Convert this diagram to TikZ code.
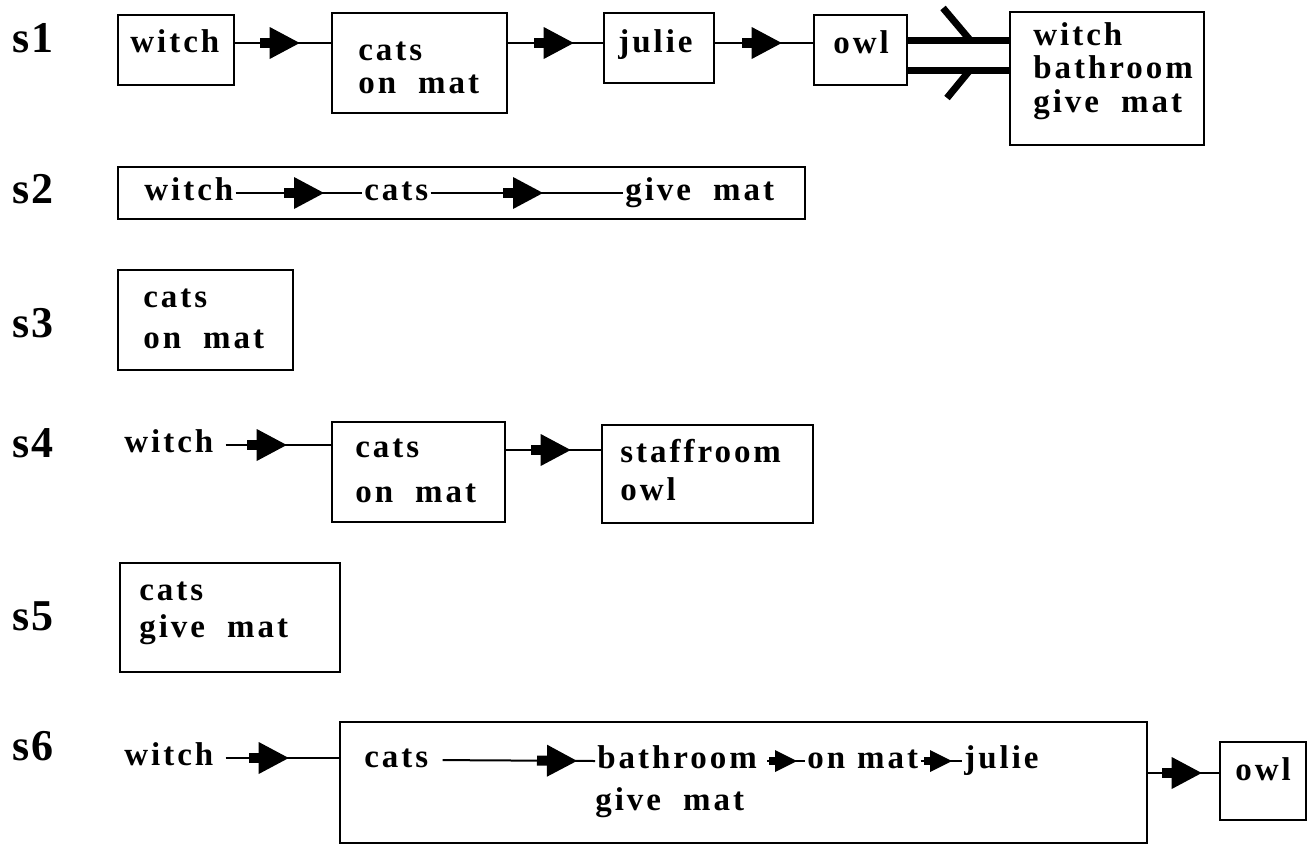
\documentclass[tikz,border=0pt]{standalone}
\usepackage{fontspec}
\setmainfont{Liberation Serif}
\newfontfamily\tfam{Liberation Serif}[LetterSpace=9]
\newfontfamily\lfam{Liberation Serif}[LetterSpace=4]
\usetikzlibrary{decorations.markings,fit}
\newcommand\ws{\hspace{11pt}}
\tikzset{
  box/.style={draw,line width=1.3pt,inner sep=0pt,rectangle},
  txt/.style={anchor=base west,inner sep=0pt,font={\tfam\bfseries\fontsize{16.5pt}{16.5pt}\selectfont}},
  word/.style={txt,inner xsep=1pt,text height=7pt,text depth=0pt},
  lab/.style={anchor=base west,inner sep=0pt,font={\lfam\bfseries\fontsize{22pt}{22pt}\selectfont}},
  conn/.style={line width=1pt},
  dbl/.style={line width=3.5pt},
  flow/.style={postaction={decorate,decoration={markings,mark=at position #1 with {
      \fill (-15pt,-8pt) -- (0pt,0pt) -- (-15pt,8pt) -- cycle;
      \fill (-20pt,-2.5pt) rectangle (-14pt,2.5pt);}}}},
  sflow/.style={postaction={decorate,decoration={markings,mark=at position #1 with {
      \fill (-11pt,-5.5pt) -- (0pt,0pt) -- (-11pt,5.5pt) -- cycle;
      \fill (-14pt,-2pt) rectangle (-10pt,2pt);}}}}
}
\begin{document}
\begin{tikzpicture}[x=0.5pt,y=-0.5pt]
\fill[white] (0,0) rectangle (1316,846);
\useasboundingbox (0,0) rectangle (1316,846);

% labels
\node[lab] (s1) at (12,52) {s1};
\node[lab] (s2) at (12,203) {s2};
\node[lab] (s3) at (12,337) {s3};
\node[lab] (s4) at (12,457) {s4};
\node[lab] (s5) at (12,630) {s5};
\node[lab] (s6) at (12,760) {s6};

% ---------- s1 ----------
\node[box,fit={(118,15) (234,85)}] (b1a) {};
\node[box,fit={(332,13) (507,113)}] (b1b) {};
\node[box,fit={(604,13) (714,83)}] (b1c) {};
\node[box,fit={(814,15) (907,85)}] (b1d) {};
\node[box,fit={(1010,12) (1204,145)}] (b1e) {};
\node[txt] (t1a) at (130,52) {witch};
\node[txt] (t1b) at (358,60) {cats};
\node[txt] (t1c) at (358,93) {on\ws mat};
\node[txt] (t1d) at (618,52) {julie};
\node[txt] (t1e) at (833,53) {owl};
\node[txt] (t1f) at (1033,45) {witch};
\node[txt] (t1g) at (1033,78) {bathroom};
\node[txt] (t1h) at (1033,112) {give\ws mat};
\coordinate (y1) at (0,43);
\draw[conn,flow=-15.5pt] (b1a.east |- y1) -- (b1b.west |- y1);
\draw[conn,flow=-14.5pt] (b1b.east |- y1) -- (b1c.west |- y1);
\draw[conn,flow=-15.5pt] (b1c.east |- y1) -- (b1d.west |- y1);
\coordinate (ya) at (0,40);
\coordinate (yb) at (0,70);
\draw[dbl] (b1d.east |- ya) -- (b1e.west |- ya);
\draw[dbl] (b1d.east |- yb) -- (b1e.west |- yb);
\coordinate (ba) at (943,8);
\coordinate (bb) at (947,98);
\draw[dbl] (ba) -- (970,40);
\draw[dbl] (bb) -- (970,70);

% ---------- s2 ----------
\node[box,fit={(118,167) (805,219)}] (b2) {};
\node[word] (w2) at (142,200) {witch};
\node[word] (c2) at (362,200) {cats};
\node[word] (g2) at (623,200) {give\ws mat};
\draw[conn,flow=-19pt] (w2.east) -- (c2.west);
\draw[conn,flow=-40pt] (c2.east) -- (g2.west);

% ---------- s3 ----------
\node[box,fit={(118,270) (293,370)}] (b3) {};
\node[txt] (t3a) at (143,307) {cats};
\node[txt] (t3b) at (143,348) {on\ws mat};

% ---------- s4 ----------
\node[word] (w4) at (122,452) {witch};
\node[box,fit={(332,422) (505,522)}] (b4a) {};
\node[box,fit={(602,425) (813,523)}] (b4b) {};
\node[txt] (t4a) at (355,457) {cats};
\node[txt] (t4b) at (355,502) {on\ws mat};
\node[txt] (t4c) at (620,462) {staffroom};
\node[txt] (t4d) at (620,500) {owl};
\draw[conn,flow=-22pt,shorten <=5pt] (w4.east) -- (b4a.west |- w4.east);
\coordinate (y4) at (0,450);
\draw[conn,flow=-15pt] (b4a.east |- y4) -- (b4b.west |- y4);

% ---------- s5 ----------
\node[box,fit={(120,563) (340,672)}] (b5) {};
\node[txt] (t5a) at (139,600) {cats};
\node[txt] (t5b) at (139,637) {give\ws mat};

% ---------- s6 ----------
\node[word] (w6) at (122,765) {witch};
\node[box,fit={(340,722) (1147,843)}] (b6) {};
\node[box,fit={(1220,742) (1306,820)}] (b6o) {};
\node[word] (c6) at (362,767) {cats};
\node[word] (h6) at (595,768) {bathroom};
\node[word] (m6) at (805,768) {on\hspace{6pt}mat};
\node[word] (j6) at (962,768) {julie};
\node[txt] (g6) at (595,810) {give\ws mat};
\node[txt] (o6) at (1235,780) {owl};
\draw[conn,flow=-25pt,shorten <=5pt] (w6.east) -- (b6.west |- w6.east);
\draw[conn,flow=-9pt,shorten <=6pt] (c6.east) -- (h6.west);
\draw[conn,sflow=-4pt,shorten <=4pt] (h6.east) -- (m6.west);
\draw[conn,sflow=-5pt] (m6.east) -- (j6.west);
\coordinate (y6) at (0,773);
\draw[conn,flow=-8.5pt] (b6.east |- y6) -- (b6o.west |- y6);
\end{tikzpicture}
\end{document}
